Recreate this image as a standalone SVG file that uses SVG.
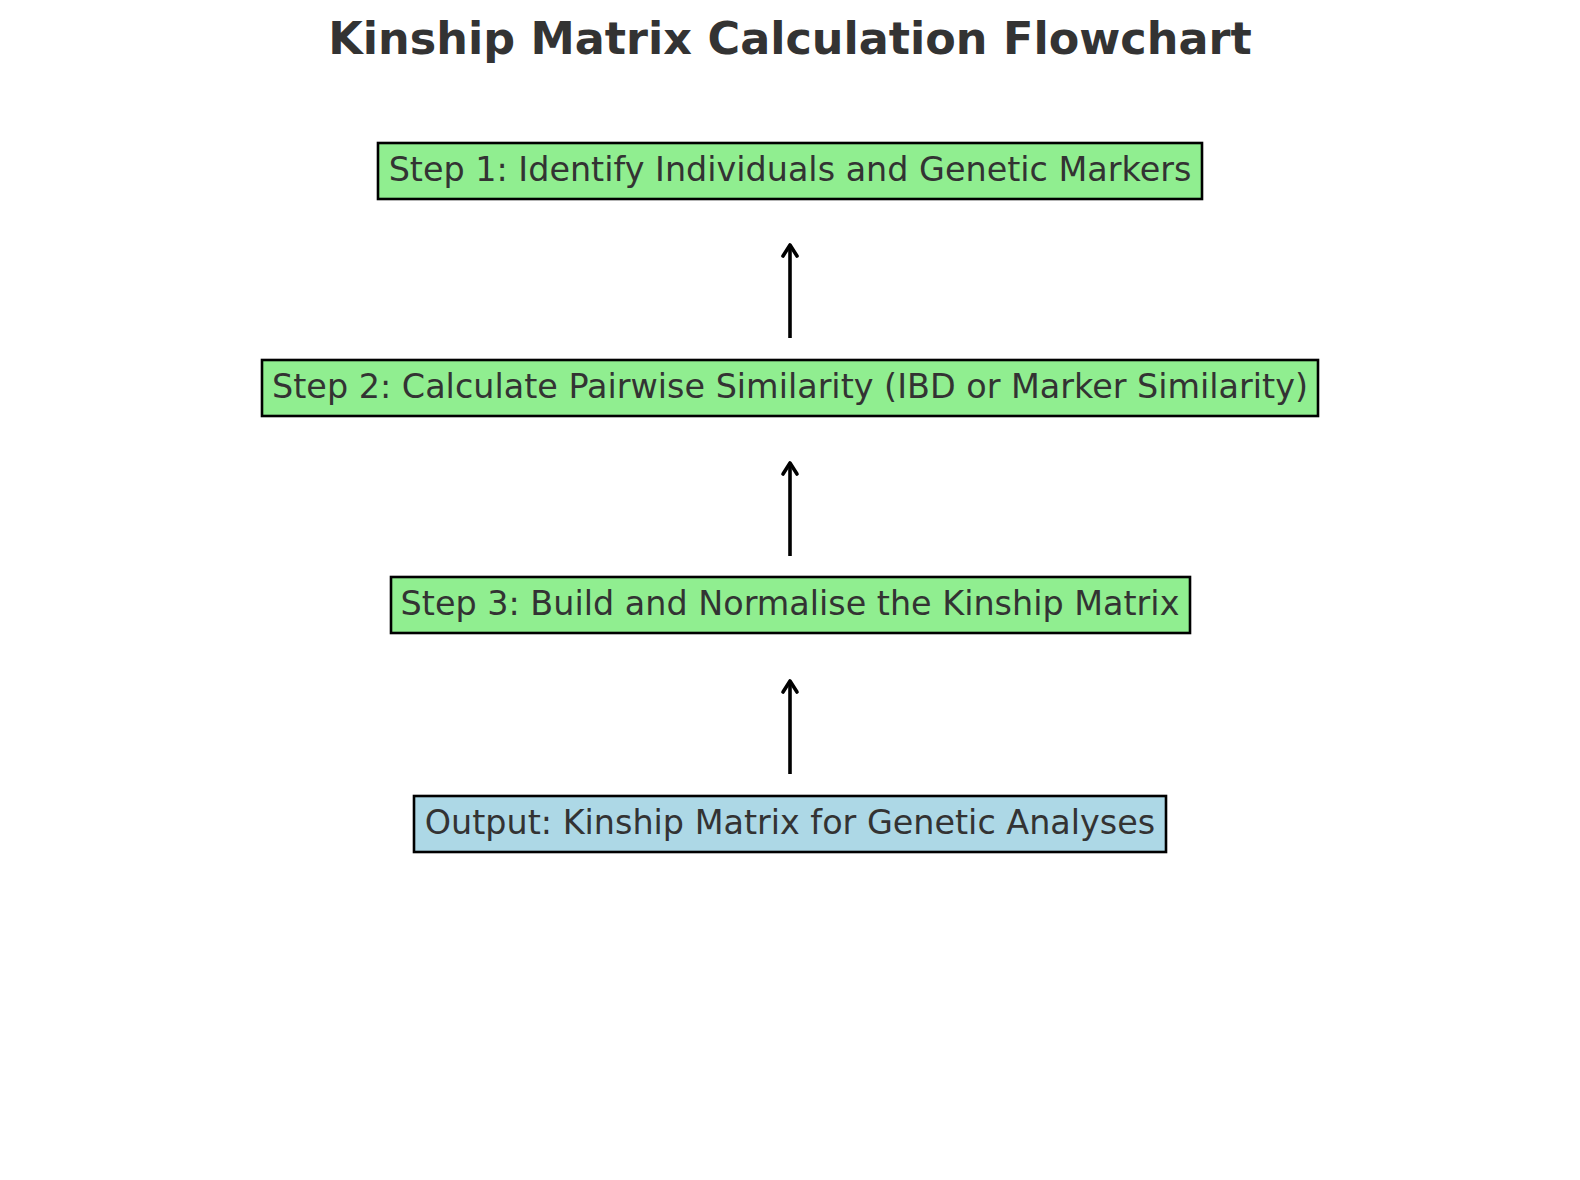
<svg xmlns="http://www.w3.org/2000/svg" width="1580" height="1180" viewBox="0 0 1580 1180">
<defs>
<style>
.box{stroke:#000;stroke-width:2.6}
.step{fill:#90EE90}
.out{fill:#ADD8E6}
.lbl{font-family:"DejaVu Sans",sans-serif;font-size:33.4px;fill:#333;text-anchor:middle}
.title{font-family:"DejaVu Sans",sans-serif;font-size:44.5px;font-weight:bold;fill:#333;text-anchor:middle}
.conn{stroke:#000;stroke-width:3.6;fill:none}
</style>
<marker id="ah" viewBox="-14 -10 18 20" refX="0" refY="0" markerWidth="18" markerHeight="20" markerUnits="userSpaceOnUse" orient="auto">
<path d="M-11,-7 L0,0 L-11,7" fill="none" stroke="#000" stroke-width="3.6" stroke-linecap="round" stroke-linejoin="round"/>
</marker>
</defs>
<rect width="1580" height="1180" fill="#fff"/>
<text class="title" x="790" y="54">Kinship Matrix Calculation Flowchart</text>
<g id="connectors">
<line class="conn" x1="790" y1="338" x2="790" y2="245" marker-end="url(#ah)"/>
<line class="conn" x1="790" y1="556" x2="790" y2="463" marker-end="url(#ah)"/>
<line class="conn" x1="790" y1="774" x2="790" y2="681" marker-end="url(#ah)"/>
</g>
<g id="step1">
<rect class="box step" x="378" y="143" width="824" height="56"/>
<text class="lbl" x="790" y="180.5">Step 1: Identify Individuals and Genetic Markers</text>
</g>
<g id="step2">
<rect class="box step" x="262" y="360" width="1056" height="56"/>
<text class="lbl" x="790" y="397.5">Step 2: Calculate Pairwise Similarity (IBD or Marker Similarity)</text>
</g>
<g id="step3">
<rect class="box step" x="391" y="577" width="799" height="56"/>
<text class="lbl" x="790" y="614.5">Step 3: Build and Normalise the Kinship Matrix</text>
</g>
<g id="output">
<rect class="box out" x="414" y="796" width="752" height="56"/>
<text class="lbl" x="790" y="833.5">Output: Kinship Matrix for Genetic Analyses</text>
</g>
</svg>
